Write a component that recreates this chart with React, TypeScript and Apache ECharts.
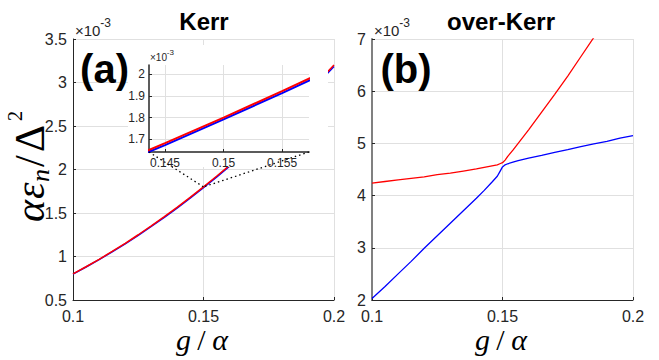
import React, { useEffect, useRef } from "react";
import * as echarts from "echarts";

// Panel (a) Kerr: g/alpha and eigenvalues (units of 1e-3)
const kerrG = [0.1, 0.105, 0.11, 0.115, 0.12, 0.125, 0.13, 0.135, 0.14, 0.145, 0.15, 0.155, 0.16, 0.165, 0.17, 0.175, 0.18, 0.185, 0.19, 0.195, 0.2];
const kerrUpper = [0.8, 0.882, 0.968, 1.058, 1.152, 1.25, 1.352, 1.458, 1.568, 1.682, 1.8, 1.922, 2.048, 2.178, 2.312, 2.45, 2.592, 2.738, 2.888, 3.042, 3.2];
const kerrLower = [0.798, 0.879, 0.964, 1.053, 1.146, 1.244, 1.345, 1.45, 1.56, 1.673, 1.792, 1.913, 2.039, 2.168, 2.301, 2.438, 2.579, 2.724, 2.873, 3.026, 3.183];

// Panel (b) over-Kerr
const overG = [0.1, 0.105, 0.11, 0.115, 0.12, 0.125, 0.13, 0.135, 0.14, 0.143, 0.146, 0.148, 0.149, 0.15, 0.151, 0.152, 0.154, 0.156, 0.16, 0.165, 0.17, 0.175, 0.18, 0.185, 0.19, 0.195, 0.2];
const overUpper = [4.24, 4.27, 4.3, 4.33, 4.36, 4.4, 4.43, 4.47, 4.51, 4.54, 4.57, 4.59, 4.61, 4.63, 4.68, 4.75, 4.87, 5.0, 5.26, 5.6, 5.94, 6.29, 6.66, 7.03, 7.41, 7.8, 8.2];
const overLower = [2.03, 2.26, 2.5, 2.74, 2.99, 3.23, 3.47, 3.71, 3.95, 4.1, 4.26, 4.37, 4.46, 4.55, 4.59, 4.61, 4.64, 4.67, 4.72, 4.77, 4.83, 4.88, 4.94, 4.99, 5.04, 5.1, 5.15];

// Ticks
const insetXTicks = [0.145, 0.15, 0.155];
const insetYTicks = [1.7, 1.8, 1.9, 2.0];
const insetXRange = [0.14363, 0.1573];
const insetYRange = [1.641, 2.043];
const zoomPoint = [0.15, 1.8];

const titles = ["Kerr", "over-Kerr"];
const tags = ["(a)", "(b)"];

const SANS = "'Liberation Sans', Arial, Helvetica, sans-serif";
const SERIF = "'Liberation Serif', 'Times New Roman', serif";
const DARK = "#262626";
const GRID = "#e0e0e0";

const GRIDS = [
  { left: 73, top: 39, width: 261, height: 261 },
  { left: 372, top: 39, width: 261, height: 261 },
  { left: 149, top: 65, width: 160, height: 87 },
];

export default function App() {
  const ref = useRef<HTMLDivElement>(null);
  useEffect(() => {
    const chart = echarts.init(ref.current!, null, { renderer: "svg" });

    const axisBase = (gridIndex: number, extra: any) => ({
      type: "value",
      gridIndex,
      axisLine: { show: true, onZero: false, lineStyle: { color: DARK, width: 1 } },
      axisTick: { show: true, inside: true, length: 3, lineStyle: { color: DARK } },
      axisLabel: { fontSize: 16, color: DARK, fontFamily: SANS, margin: 8 },
      splitLine: { show: true, lineStyle: { color: GRID, width: 1 } },
      ...extra,
    });

    const option: any = {
      animation: false,
      backgroundColor: "#ffffff",
      grid: GRIDS.map((g) => ({ ...g, containLabel: false })),
      xAxis: [
        axisBase(0, { min: 0.1, max: 0.2, interval: 0.05 }),
        axisBase(1, { min: 0.1, max: 0.2, interval: 0.05 }),
        axisBase(2, {
          min: insetXRange[0],
          max: insetXRange[1],
          z: 10,
          axisLine: { show: true, onZero: false, lineStyle: { color: DARK, width: 1.5 } },
          axisTick: { show: true, inside: true, length: 3, lineStyle: { color: DARK }, customValues: insetXTicks },
          axisLabel: { fontSize: 12, color: DARK, fontFamily: SANS, margin: 5, customValues: insetXTicks },
        }),
      ],
      yAxis: [
        axisBase(0, { min: 0.5, max: 3.5, interval: 0.5, axisLabel: { fontSize: 16, color: DARK, fontFamily: SANS, margin: 6 } }),
        axisBase(1, {
          min: 2,
          max: 7,
          interval: 1,
          axisLine: { show: true, onZero: false, lineStyle: { color: "#808080", width: 2 } },
          axisLabel: { fontSize: 16, color: DARK, fontFamily: SANS, margin: 6 },
        }),
        axisBase(2, {
          min: insetYRange[0],
          max: insetYRange[1],
          z: 10,
          axisLine: { show: true, onZero: false, lineStyle: { color: DARK, width: 1.5 } },
          axisTick: { show: true, inside: true, length: 3, lineStyle: { color: DARK }, customValues: insetYTicks },
          axisLabel: { fontSize: 12, color: DARK, fontFamily: SANS, margin: 4, customValues: insetYTicks },
        }),
      ],
      series: [
        { type: "line", xAxisIndex: 0, yAxisIndex: 0, showSymbol: false, z: 2, lineStyle: { color: "#0000ff", width: 1.5 }, data: kerrG.map((g, i) => [g, kerrLower[i]]) },
        { type: "line", xAxisIndex: 0, yAxisIndex: 0, showSymbol: false, z: 2, lineStyle: { color: "#ff0000", width: 1.5 }, data: kerrG.map((g, i) => [g, kerrUpper[i]]) },
        { type: "line", xAxisIndex: 1, yAxisIndex: 1, showSymbol: false, z: 2, lineStyle: { color: "#0000ff", width: 1.3 }, data: overG.map((g, i) => [g, overLower[i]]) },
        { type: "line", xAxisIndex: 1, yAxisIndex: 1, showSymbol: false, z: 2, lineStyle: { color: "#ff0000", width: 1.3 }, data: overG.map((g, i) => [g, overUpper[i]]) },
        { type: "line", xAxisIndex: 2, yAxisIndex: 2, showSymbol: false, z: 10, lineStyle: { color: "#0000ff", width: 2 }, data: kerrG.map((g, i) => [g, kerrLower[i]]) },
        { type: "line", xAxisIndex: 2, yAxisIndex: 2, showSymbol: false, z: 10, lineStyle: { color: "#ff0000", width: 2 }, data: kerrG.map((g, i) => [g, kerrUpper[i]]) },
      ],
    };
    chart.setOption(option);

    const p = chart.convertToPixel({ xAxisIndex: 0, yAxisIndex: 0 }, zoomPoint) as number[];
    const ig = GRIDS[2];
    const insetBL = [ig.left, ig.top + ig.height];
    const insetBR = [ig.left + ig.width, ig.top + ig.height];

    const txt = (x: number, y: number, text: string, style: any, z = 20): any => ({
      type: "text",
      x,
      y,
      z,
      style: { text, fill: "#000", align: "center", verticalAlign: "middle", ...style },
    });

    const timesTen = (x: number, y: number, big: number, small: number) => [
      txt(x, y, "×10", { fontSize: big, fontFamily: SANS, fill: DARK, align: "left" }),
      txt(x + big * 1.68, y - big * 0.45, "-3", { fontSize: small, fontFamily: SANS, fill: DARK, align: "left" }),
    ];

    const xName = (cx: number): any => ({
      type: "group",
      x: cx,
      y: 339,
      z: 20,
      children: [
        txt(-19.5, 0, "g", { fontSize: 30, fontFamily: SERIF, fontStyle: "italic" }),
        txt(-1.5, 0, "/", { fontSize: 30, fontFamily: SERIF }),
        txt(17, 0, "α", { fontSize: 30, fontFamily: SERIF, fontStyle: "italic" }),
      ],
    });

    const yName: any = {
      type: "group",
      x: 44,
      y: 222,
      rotation: Math.PI / 2,
      z: 20,
      children: [
        txt(0, -14, "α", { fontSize: 42, fontFamily: SERIF, fontStyle: "italic", align: "left" }),
        txt(23, -14, "ε", { fontSize: 42, fontFamily: SERIF, fontStyle: "italic", align: "left" }),
        txt(40, -3.5, "n", { fontSize: 26, fontFamily: SERIF, fontStyle: "italic", align: "left" }),
        txt(55, -14, "/", { fontSize: 42, fontFamily: SERIF, align: "left" }),
        txt(70, -14, "Δ", { fontSize: 42, fontFamily: SERIF, align: "left" }),
        txt(101, -29, "2", { fontSize: 20, fontFamily: SERIF, align: "left" }),
      ],
    };

    const elements: any[] = [
      { type: "rect", z: 5, shape: { x: 128, y: 45, width: 200, height: 122 }, style: { fill: "#ffffff" } },
      { type: "line", z: 12, shape: { x1: insetBL[0], y1: insetBL[1], x2: p[0], y2: p[1] }, style: { stroke: "#000", lineWidth: 1.3, lineDash: [1.5, 3] } },
      { type: "line", z: 12, shape: { x1: insetBR[0], y1: insetBR[1], x2: p[0], y2: p[1] }, style: { stroke: "#000", lineWidth: 1.3, lineDash: [1.5, 3] } },
      txt(204, 21, titles[0], { fontSize: 24, fontWeight: "bold", fontFamily: SANS }),
      txt(501, 21, titles[1], { fontSize: 24, fontWeight: "bold", fontFamily: SANS }),
      txt(104.5, 69, tags[0], { fontSize: 40, fontWeight: "bold", fontFamily: SANS }),
      txt(406, 69, tags[1], { fontSize: 40, fontWeight: "bold", fontFamily: SANS }),
      ...timesTen(75, 30, 15, 12),
      ...timesTen(374, 30, 15, 12),
      ...timesTen(150, 57, 10, 8),
      xName(203),
      xName(502),
      yName,
    ];
    chart.setOption({ graphic: { elements } });

    return () => chart.dispose();
  }, []);
  return <div ref={ref} style={{ position: "absolute", left: 0, top: 0, width: 659, height: 360 }} />;
}
